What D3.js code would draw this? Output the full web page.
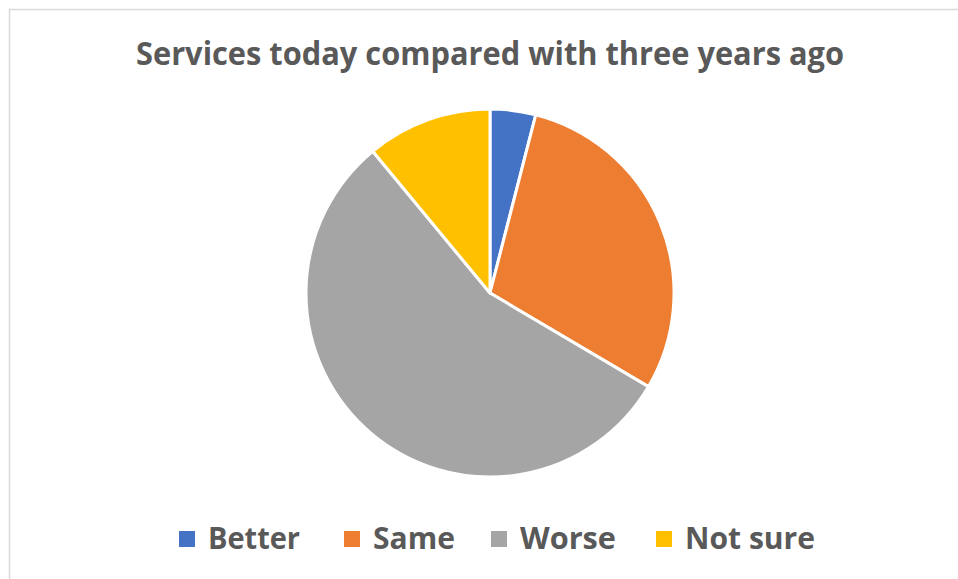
<!DOCTYPE html>
<html>
<head>
<meta charset="utf-8">
<script src="https://cdn.jsdelivr.net/npm/d3@7"></script>
<style>
  html, body { margin: 0; padding: 0; background: #fff; }
  svg { display: block; }
</style>
</head>
<body>
<svg id="chart" width="958" height="579"></svg>
<script>
// Survey responses: how services compare with three years ago (percent)
const categories = ["Better", "Same", "Worse", "Not sure"];
const values = [4, 29.5, 55.5, 11];
const colors = ["#4472C4", "#ED7D31", "#A5A5A5", "#FFC000"];
const title = "Services today compared with three years ago";

const W = 958, H = 579;
const svg = d3.select("#chart");
const fontFamily = "'Open Sans', 'DejaVu Sans', sans-serif";

// Chart area border (only left and top edges fall inside the view)
svg.append("rect")
  .attr("x", 9.5).attr("y", 9.5)
  .attr("width", W + 20).attr("height", H + 20)
  .attr("fill", "#fff")
  .attr("stroke", "#D9D9D9")
  .attr("stroke-width", 1.5);

// Title
svg.append("text")
  .attr("x", 490).attr("y", 65)
  .attr("text-anchor", "middle")
  .attr("font-family", fontFamily)
  .attr("font-weight", 700)
  .attr("font-size", 32)
  .attr("fill", "#595959")
  .attr("textLength", 708)
  .attr("lengthAdjust", "spacingAndGlyphs")
  .text(title);

// Pie
const cx = 490, cy = 293, r = 184;
const data = categories.map((c, i) => ({ category: c, value: values[i], color: colors[i] }));
const pie = d3.pie().value(d => d.value).sort(null);
const arc = d3.arc().innerRadius(0).outerRadius(r);

svg.append("g")
  .attr("transform", `translate(${cx},${cy})`)
  .selectAll("path")
  .data(pie(data))
  .join("path")
  .attr("d", arc)
  .attr("fill", d => d.data.color)
  .attr("stroke", "#fff")
  .attr("stroke-width", 3)
  .attr("stroke-linejoin", "round");

// Legend
const legendItems = [
  { x: 179, textW: 92 },
  { x: 344, textW: 82 },
  { x: 491, textW: 96 },
  { x: 656, textW: 130 }
];
const legend = svg.append("g");
data.forEach((d, i) => {
  const g = legend.append("g").attr("transform", `translate(${legendItems[i].x},0)`);
  g.append("rect")
    .attr("x", 0).attr("y", 531)
    .attr("width", 16).attr("height", 16)
    .attr("fill", d.color);
  g.append("text")
    .attr("x", 29).attr("y", 549)
    .attr("font-family", fontFamily)
    .attr("font-weight", 700)
    .attr("font-size", 29.5)
    .attr("fill", "#595959")
    .attr("textLength", legendItems[i].textW)
    .attr("lengthAdjust", "spacingAndGlyphs")
    .text(d.category);
});
</script>
</body>
</html>
